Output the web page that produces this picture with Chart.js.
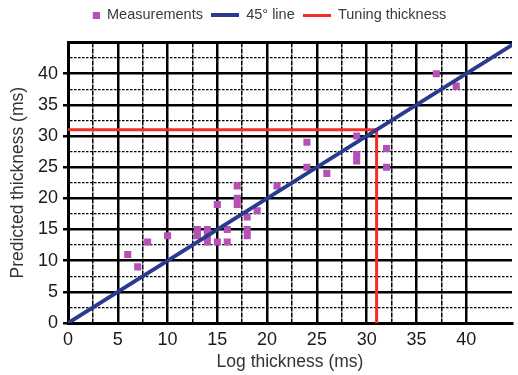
<!DOCTYPE html>
<html><head><meta charset="utf-8">
<script src="https://cdn.jsdelivr.net/npm/chart.js@4"></script>
<style>html,body{margin:0;padding:0;background:#fff}#wrap{width:518px;height:375px}</style>
</head><body><div id="wrap"><canvas id="c" width="518" height="375"></canvas></div>
<script>
// Data
const measX = [6, 7, 8, 10, 13, 13, 14, 14, 14, 15, 15, 16, 16, 17, 17, 17, 18, 18, 18, 19, 21, 24, 24, 26, 29, 29, 29, 32, 32, 37, 39];
const measY = [11, 9, 13, 14, 15, 14, 15, 14, 13, 19, 13, 15, 13, 22, 20, 19, 17, 15, 14, 18, 22, 29, 25, 24, 30, 27, 26, 28, 25, 40, 38];
const diagX = [0, 45];
const diagY = [0, 45];
const tuneX = [0, 31, 31];
const tuneY = [31, 31, 0];
const xTickLabels = [0, 5, 10, 15, 20, 25, 30, 35, 40];
const yTickLabels = [0, 5, 10, 15, 20, 25, 30, 35, 40];
const seriesNames = ['Measurements', '45\u00b0 line', 'Tuning thickness'];

const C_MEAS = '#b550b5', C_DIAG = '#2a3a8f', C_TUNE = '#ee2f24';
const FONT = 'Liberation Sans, Arial, sans-serif';

const pts = (xs, ys) => xs.map((x, i) => ({x, y: ys[i]}));
const mult = (v, s) => Math.abs(v / s - Math.round(v / s)) < 1e-6;

function mkImg(w, h, draw) { const c = document.createElement('canvas'); c.width = w; c.height = h; draw(c.getContext('2d')); return c; }
const legSquare = mkImg(28, 7, g => { g.fillStyle = C_MEAS; g.fillRect(21, 0, 7, 7); });
const legBlue = mkImg(28, 4, g => { g.fillStyle = C_DIAG; g.fillRect(0, 0, 28, 4); });
const legRed = mkImg(28, 3, g => { g.fillStyle = C_TUNE; g.fillRect(0, 0, 28, 3); });
const legImgs = [legSquare, legBlue, legRed];

const legendGap = {
  id: 'legendGap',
  beforeUpdate(chart) {
    const lg = chart.legend;
    if (lg && !lg._gapPatched) {
      const f = lg.fit;
      lg.fit = function () { f.call(this); this.height += 10; };
      lg._gapPatched = true;
    }
  }
};

new Chart(document.getElementById('c'), {
  type: 'scatter',
  data: {
    datasets: [
      { label: seriesNames[0], data: pts(measX, measY), pointStyle: 'rect', pointRadius: 5, pointHoverRadius: 5,
        backgroundColor: C_MEAS, borderColor: C_MEAS, borderWidth: 0, order: 3 },
      { label: seriesNames[1], data: pts(diagX, diagY), showLine: true, pointRadius: 0, borderColor: C_DIAG,
        backgroundColor: C_DIAG, borderWidth: 4, order: 1 },
      { label: seriesNames[2], data: pts(tuneX, tuneY), showLine: true, pointRadius: 0, borderColor: C_TUNE,
        backgroundColor: C_TUNE, borderWidth: 3, order: 2 }
    ]
  },
  options: {
    responsive: false, animation: false, devicePixelRatio: 1,
    layout: { padding: { left: 0, right: 0, top: 0, bottom: 0 } },
    plugins: {
      tooltip: { enabled: false },
      legend: {
        position: 'top',
        labels: {
          usePointStyle: true, pointStyleWidth: 28, padding: 8,
          font: { family: FONT, size: 14.5 }, color: '#3a3a3a',
          generateLabels(chart) {
            const items = Chart.defaults.plugins.legend.labels.generateLabels(chart);
            items.sort((a, b) => a.datasetIndex - b.datasetIndex);
            items.forEach(it => { it.pointStyle = legImgs[it.datasetIndex]; it.lineWidth = 0; });
            return items;
          }
        }
      }
    },
    scales: {
      x: {
        type: 'linear', min: 0, max: 44.6,
        afterFit(s) { s.height = 52; },
        ticks: {
          stepSize: 2.5, autoSkip: false, maxRotation: 0, padding: 6,
          font: { family: FONT, size: 18 }, color: '#1a1a1a',
          callback: v => xTickLabels.some(t => Math.abs(t - v) < 1e-6) ? String(Math.round(v)) : ''
        },
        grid: {
          drawTicks: false,
          color: c => (c.tick && mult(c.tick.value, 2.5)) ? '#000' : 'rgba(0,0,0,0)',
          lineWidth: c => (c.tick && mult(c.tick.value, 5)) ? 2.5 : 1.5
        },
        border: { display: true, color: '#000', width: 3,
          dash: c => (c.tick && !mult(c.tick.value, 5)) ? [5, 1] : [] },
        title: { display: true, text: 'Log thickness (ms)', font: { family: FONT, size: 17.5 }, color: '#333',
          padding: { top: 0, bottom: 2 } }
      },
      y: {
        type: 'linear', min: 0, max: 45,
        afterFit(s) { s.width = 68; },
        ticks: {
          stepSize: 2.5, autoSkip: false, padding: 5,
          font: { family: FONT, size: 18 }, color: '#1a1a1a',
          callback: v => yTickLabels.some(t => Math.abs(t - v) < 1e-6) ? String(Math.round(v)) : ''
        },
        grid: {
          drawTicks: true, tickLength: 5, tickWidth: 2.5,
          tickColor: c => (c.tick && mult(c.tick.value, 5) && c.tick.value < 44) ? '#000' : 'rgba(0,0,0,0)',
          color: c => (c.tick && mult(c.tick.value, 2.5)) ? '#000' : 'rgba(0,0,0,0)',
          lineWidth: c => !c.tick ? 1 : (c.tick.value >= 45 ? 3 : (mult(c.tick.value, 5) ? 2.5 : 1.3))
        },
        border: { display: true, color: '#000', width: 3,
          dash: c => (c.tick && !mult(c.tick.value, 5)) ? [2.5, 1.5] : [] },
        title: { display: true, text: 'Predicted thickness (ms)', font: { family: FONT, size: 17.5 }, color: '#333',
          padding: { top: 8, bottom: 0 } }
      }
    }
  },
  plugins: [legendGap]
});
</script>
</body></html>
